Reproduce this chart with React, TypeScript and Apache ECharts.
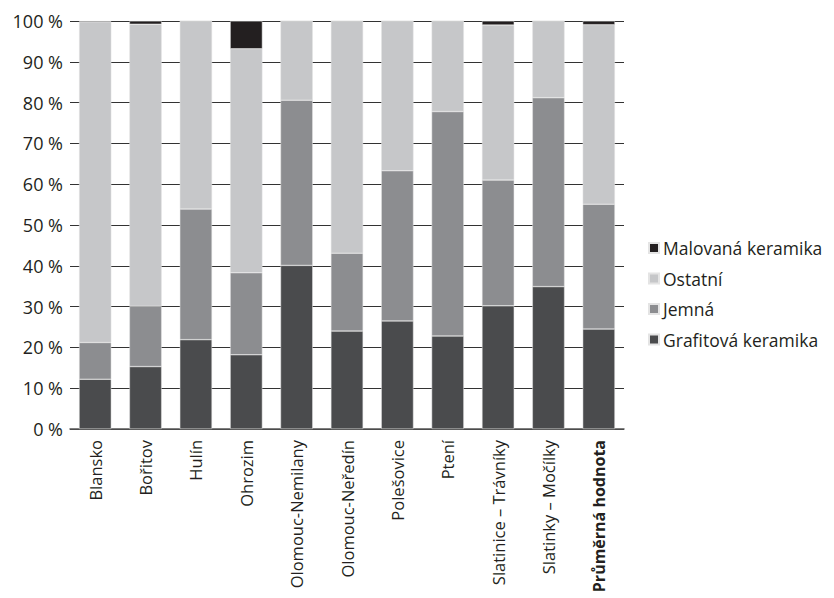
import React, { useEffect, useRef } from "react";
import * as echarts from "echarts";

const categories = [
  "Blansko",
  "Bořitov",
  "Hulín",
  "Ohrozim",
  "Olomouc-Nemilany",
  "Olomouc-Neředín",
  "Polešovice",
  "Ptení",
  "Slatinice – Trávníky",
  "Slatinky – Močílky",
  "Průměrná hodnota",
];
const grafitova = [12.2, 15.3, 21.9, 18.2, 40.1, 24.0, 26.5, 22.8, 30.2, 34.9, 24.5];
const jemna = [9.0, 14.8, 32.0, 20.1, 40.5, 19.1, 36.8, 55.0, 30.8, 46.3, 30.6];
const ostatni = [78.6, 69.1, 46.1, 54.9, 19.4, 56.9, 36.7, 22.2, 38.0, 18.8, 44.0];
const malovana = [0.2, 0.8, 0, 6.8, 0, 0, 0, 0, 1.0, 0, 0.9];
const seriesNames = ["Grafitová keramika", "Jemná", "Ostatní", "Malovaná keramika"];
const seriesColors = ["#4a4b4d", "#8c8d90", "#c6c7c9", "#231f20"];
const legendOrder = ["Malovaná keramika", "Ostatní", "Jemná", "Grafitová keramika"];

const FONT = "Open Sans";

export default function App() {
  const ref = useRef<HTMLDivElement>(null);
  useEffect(() => {
    if (!ref.current) return;
    const chart = echarts.init(ref.current, null, { renderer: "svg" });
    const dataSets = [grafitova, jemna, ostatni, malovana];
    chart.setOption({
      animation: false,
      textStyle: { fontFamily: FONT, color: "#231f20" },
      grid: { left: 70, right: 210, top: 21, bottom: 169, containLabel: false },
      legend: {
        orient: "vertical",
        left: 643,
        top: 234,
        itemWidth: 10,
        itemHeight: 10,
        itemGap: 12.5,
        icon: "rect",
        data: legendOrder,
        textStyle: { fontFamily: FONT, fontSize: 17.5, color: "#231f20", padding: [0, 0, 0, -1] },
      },
      xAxis: {
        type: "category",
        data: categories,
        axisTick: { show: false },
        axisLine: { lineStyle: { color: "#555", width: 1.5 } },
        axisLabel: {
          rotate: 90,
          margin: 11,
          interval: 0,
          fontFamily: FONT,
          fontSize: 16.5,
          color: "#231f20",
          formatter: (v: string) => (v === "Průměrná hodnota" ? "{b|" + v + "}" : v),
          rich: { b: { fontWeight: "bold", fontFamily: FONT, fontSize: 16, color: "#231f20" } },
        },
      },
      yAxis: {
        type: "value",
        min: 0,
        max: 100,
        interval: 10,
        axisLine: { show: false },
        axisTick: { show: false },
        splitLine: { lineStyle: { color: "#333", width: 1.2 } },
        axisLabel: {
          formatter: "{value} %",
          fontFamily: FONT,
          fontSize: 18,
          color: "#231f20",
          margin: 7,
        },
      },
      series: seriesNames.map((name, i) => ({
        name,
        type: "bar",
        stack: "total",
        data: dataSets[i],
        barCategoryGap: "36%",
        itemStyle: { color: seriesColors[i], borderColor: "#e4e4e4", borderWidth: 0.5 },
      })),
    });
    return () => chart.dispose();
  }, []);
  return <div ref={ref} style={{ width: 834, height: 598, marginLeft: -8, marginTop: -8 }} />;
}
